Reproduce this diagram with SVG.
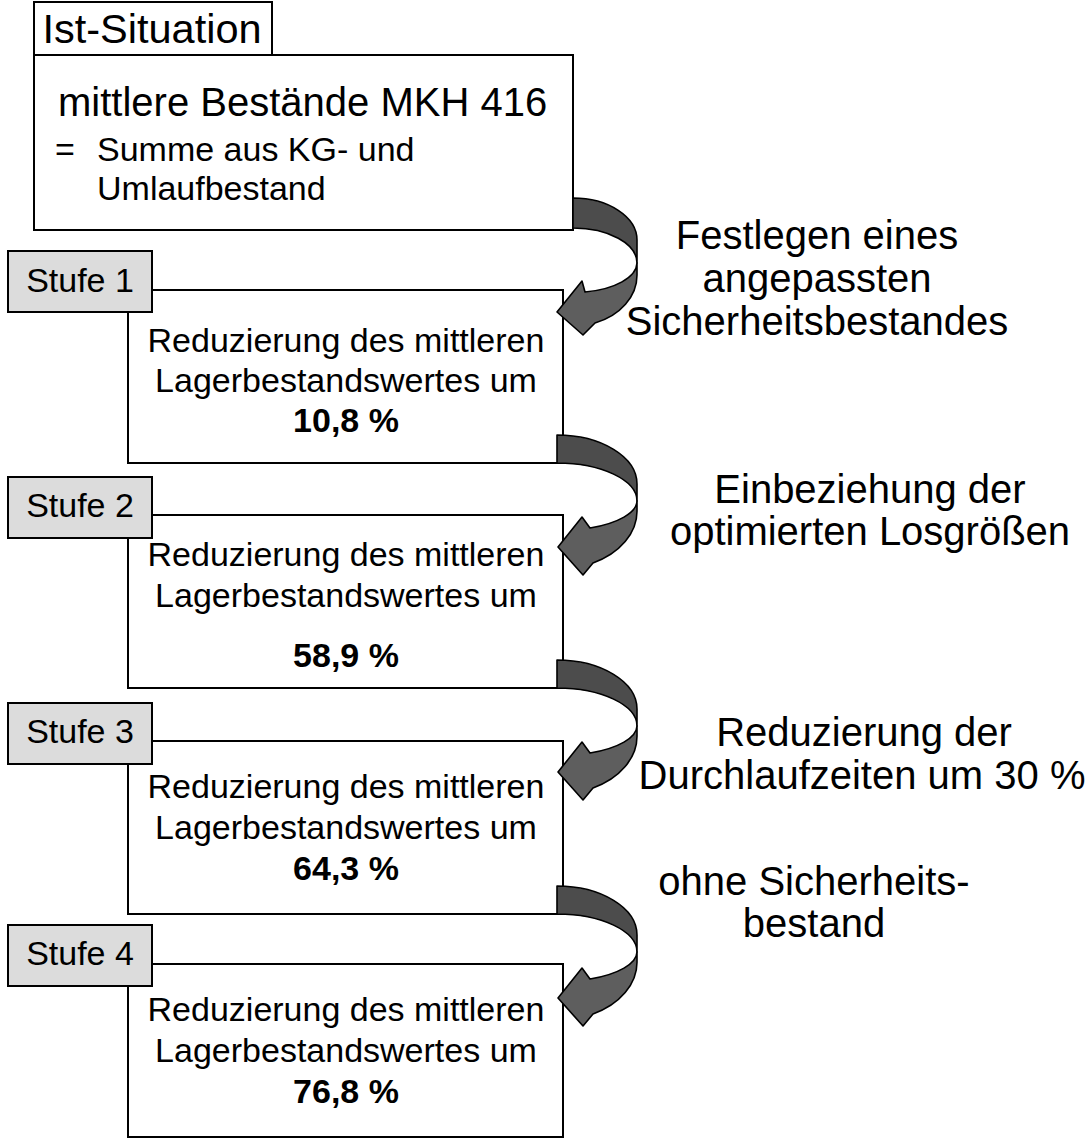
<svg xmlns="http://www.w3.org/2000/svg" xmlns:xlink="http://www.w3.org/1999/xlink" width="1085" height="1138" viewBox="0 0 1085 1138">
<style>
text{font-family:"Liberation Sans",Arial,sans-serif;fill:#000}
.box{fill:#fff;stroke:#000;stroke-width:2}
.tab{fill:#dcdcdc;stroke:#000;stroke-width:2}
.t34{font-size:34px}
.mid{text-anchor:middle}
.b{font-weight:bold}
.lbl{font-size:40px;text-anchor:middle}
.back{fill:#4c4c4c;stroke:#000;stroke-width:1.6;stroke-linejoin:round}
.front{fill:#5e5e5e;stroke:#000;stroke-width:1.6;stroke-linejoin:round}
</style>
<defs>
<g id="curv">
<path class="back" d="M0,-28 A80,49 0 0 1 80,21 L80,38 A80,38 0 0 0 0,0 Z"/>
<path class="front" d="M80,38 L80,48 A80,58 0 0 1 36,100 L26,112 L1,84 L25,54 L33,65 A80,30 0 0 0 80,38 Z"/>
</g>
</defs>
<rect width="1085" height="1138" fill="#fff"/>

<g id="ist">
<rect class="box" x="34" y="55" width="539" height="175"/>
<rect class="box" x="34" y="2" width="238" height="53"/>
<text x="152" y="43" font-size="41.5" text-anchor="middle">Ist-Situation</text>
<text x="58" y="116" font-size="40">mittlere Bestände MKH 416</text>
<text class="t34" x="55" y="161">=</text>
<text class="t34" x="97" y="161">Summe aus KG- und</text>
<text class="t34" x="97" y="200">Umlaufbestand</text>
</g>

<g id="stufe1">
<rect class="box" x="128" y="290" width="435" height="173"/>
<rect class="tab" x="8" y="251" width="144" height="61"/>
<text class="t34 mid" x="80" y="292">Stufe 1</text>
<text class="t34 mid" x="346" y="352">Reduzierung des mittleren</text>
<text class="t34 mid" x="346" y="392">Lagerbestandswertes um</text>
<text class="t34 mid b" x="346" y="432">10,8 %</text>
</g>

<g id="stufe2">
<rect class="box" x="128" y="515" width="435" height="173"/>
<rect class="tab" x="8" y="477" width="144" height="61"/>
<text class="t34 mid" x="80" y="517">Stufe 2</text>
<text class="t34 mid" x="346" y="566">Reduzierung des mittleren</text>
<text class="t34 mid" x="346" y="607">Lagerbestandswertes um</text>
<text class="t34 mid b" x="346" y="667">58,9 %</text>
</g>

<g id="stufe3">
<rect class="box" x="128" y="741" width="435" height="173"/>
<rect class="tab" x="8" y="703" width="144" height="61"/>
<text class="t34 mid" x="80" y="743">Stufe 3</text>
<text class="t34 mid" x="346" y="798">Reduzierung des mittleren</text>
<text class="t34 mid" x="346" y="839">Lagerbestandswertes um</text>
<text class="t34 mid b" x="346" y="880">64,3 %</text>
</g>

<g id="stufe4">
<rect class="box" x="128" y="964" width="435" height="173"/>
<rect class="tab" x="8" y="925" width="144" height="61"/>
<text class="t34 mid" x="80" y="965">Stufe 4</text>
<text class="t34 mid" x="346" y="1021">Reduzierung des mittleren</text>
<text class="t34 mid" x="346" y="1062">Lagerbestandswertes um</text>
<text class="t34 mid b" x="346" y="1103">76,8 %</text>
</g>

<g id="connectors">
<g transform="translate(573,228)">
<path class="back" d="M0,-30 A64,42 0 0 1 64,12 L64,35 A64,35 0 0 0 0,0 Z"/>
<path class="front" d="M64,35 L64,47 A64,51 0 0 1 22,95 L10,107 L-16,84 L9,53 L12,64 A64,30 0 0 0 64,35 Z"/>
</g>
<use xlink:href="#curv" transform="translate(557,463)"/>
<use xlink:href="#curv" transform="translate(557,688)"/>
<use xlink:href="#curv" transform="translate(557,914)"/>
</g>

<g id="labels">
<text class="lbl" x="817" y="249">Festlegen eines</text>
<text class="lbl" x="817" y="292">angepassten</text>
<text class="lbl" x="817" y="335">Sicherheitsbestandes</text>
<text class="lbl" x="870" y="503">Einbeziehung der</text>
<text class="lbl" x="870" y="545">optimierten Losgrößen</text>
<text class="lbl" x="864" y="746">Reduzierung der</text>
<text class="lbl" x="862" y="789" font-size="39.5">Durchlaufzeiten um 30 %</text>
<text class="lbl" x="814" y="895">ohne Sicherheits-</text>
<text class="lbl" x="814" y="937">bestand</text>
</g>
</svg>
